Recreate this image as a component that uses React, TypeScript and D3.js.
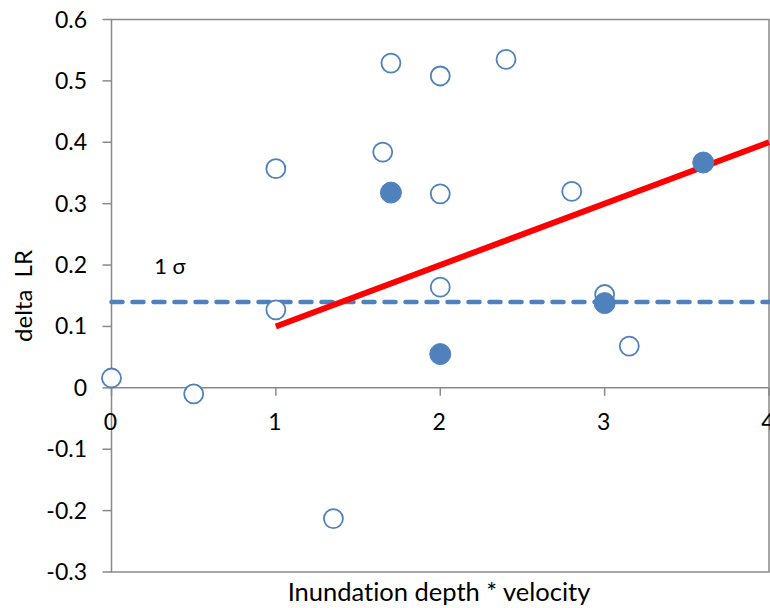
import React from "react";
import * as d3 from "d3";

const openX = [0, 0.5, 1, 1, 1.35, 1.65, 1.7, 2, 2, 2, 2.4, 2.8, 3, 3.15];
const openY = [0.016, -0.01, 0.357, 0.127, -0.213, 0.384, 0.529, 0.508, 0.316, 0.164, 0.535, 0.32, 0.152, 0.068];
const filledX = [1.7, 2, 3, 3.6];
const filledY = [0.318, 0.055, 0.138, 0.367];
const trendX = [1, 4];
const trendY = [0.1, 0.4];
const sigmaLevel = 0.14;
const xTicks = [0, 1, 2, 3, 4];
const yTicks = [0.6, 0.5, 0.4, 0.3, 0.2, 0.1, 0, -0.1, -0.2, -0.3];

const W = 770;
const H = 608;
const FONT = "Lato, 'Open Sans', sans-serif";
const BLUE = "#4F81BD";
const GREY = "#898989";

export default function App() {
  const x = d3.scaleLinear().domain([0, 4]).range([111.5, 769]);
  const y = d3.scaleLinear().domain([-0.3, 0.6]).range([572, 19.5]);
  const line = d3
    .line<number>()
    .x((d) => x(trendX[d]))
    .y((d) => y(trendY[d]));
  const fmt = (v: number) => (v === 0 ? "0" : v.toFixed(1));

  return (
    <svg
      width={W}
      height={H}
      style={{ position: "absolute", left: 0, top: 0, background: "#fff", fontVariantLigatures: "none" }}
      fontFamily={FONT}
    >
      {/* plot border */}
      <rect x={x(0)} y={y(0.6)} width={x(4) - x(0)} height={y(-0.3) - y(0.6)} fill="none" stroke={GREY} strokeWidth={1.5} />
      {/* y ticks */}
      {yTicks.map((t) => (
        <g key={t}>
          <line x1={x(0) - 9} x2={x(0)} y1={y(t)} y2={y(t)} stroke={GREY} strokeWidth={1.5} />
          <text x={87} y={y(t)} dy="0.35em" textAnchor="end" fontSize={23} fill="#000">
            {fmt(t)}
          </text>
        </g>
      ))}
      {/* x axis at zero */}
      <line x1={x(0)} x2={x(4)} y1={y(0)} y2={y(0)} stroke={GREY} strokeWidth={1.5} />
      {xTicks.map((t) => (
        <g key={t}>
          <line x1={x(t)} x2={x(t)} y1={y(0)} y2={y(0) + 8} stroke={GREY} strokeWidth={1.5} />
          <text x={x(t) - 1} y={y(0) + 34} dy="0.35em" textAnchor="middle" fontSize={23} fill="#000">
            {t}
          </text>
        </g>
      ))}
      {/* sigma line */}
      <line
        x1={x(0)}
        x2={x(4)}
        y1={y(sigmaLevel)}
        y2={y(sigmaLevel)}
        stroke={BLUE}
        strokeWidth={4.5}
        strokeDasharray="11 10"
        strokeLinecap="round"
      />
      <text x={170} y={266} dy="0.35em" textAnchor="middle" fontSize={22} fill="#000">
        1 σ
      </text>
      {/* trend */}
      <path d={line([0, 1]) || ""} stroke="#FF0000" strokeWidth={6} fill="none" />
      {/* open circles */}
      {openX.map((v, i) => (
        <circle key={"o" + i} cx={x(v)} cy={y(openY[i])} r={9.5} fill="#fff" stroke={BLUE} strokeWidth={1.8} />
      ))}
      {/* filled circles */}
      {filledX.map((v, i) => (
        <circle key={"f" + i} cx={x(v)} cy={y(filledY[i])} r={10.5} fill={BLUE} stroke={BLUE} strokeWidth={1} />
      ))}
      {/* axis titles */}
      <text x={439} y={601} textAnchor="middle" fontSize={25.5} fill="#000">
        Inundation depth * velocity
      </text>
      <text
        transform={`translate(32,${296}) rotate(-90)`}
        textAnchor="middle"
        fontSize={24}
        fill="#000"
        style={{ whiteSpace: "pre" }}
      >
        {"delta  LR"}
      </text>
    </svg>
  );
}
